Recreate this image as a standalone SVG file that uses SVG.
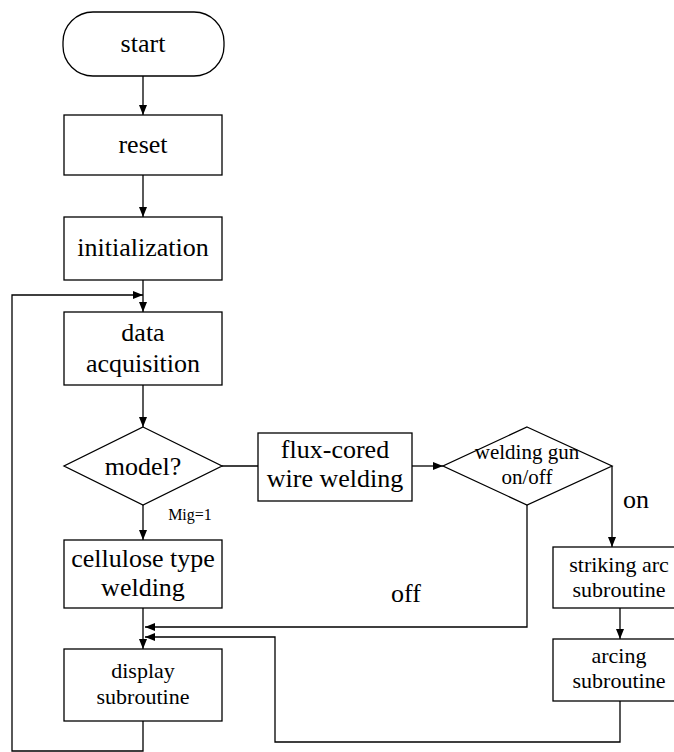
<svg xmlns="http://www.w3.org/2000/svg" width="674" height="752" viewBox="0 0 674 752">
<defs>
<marker id="ah" markerWidth="10" markerHeight="8" refX="10" refY="4" orient="auto" markerUnits="userSpaceOnUse">
<path d="M0,0 L10,4 L0,8 Z" fill="#000"/>
</marker>
<style>
.box{fill:#fff;stroke:#000;stroke-width:1.3}
.ln{fill:none;stroke:#000;stroke-width:1.3}
.t{font-family:"Liberation Serif","Times New Roman",serif;font-size:26px;fill:#000;text-anchor:middle}
.s{font-family:"Liberation Serif","Times New Roman",serif;font-size:22px;fill:#000;text-anchor:middle}
</style>
</defs>
<rect width="674" height="752" fill="#fff"/>
<g id="connectors">
<path class="ln" d="M143,76 V115" marker-end="url(#ah)"/>
<path class="ln" d="M143,175 V217" marker-end="url(#ah)"/>
<path class="ln" d="M143,280 V312" marker-end="url(#ah)"/>
<path class="ln" d="M143,721 V751 H12 V295 H143" marker-end="url(#ah)"/>
<path class="ln" d="M143,385 V427" marker-end="url(#ah)"/>
<path class="ln" d="M143,505 V540" marker-end="url(#ah)"/>
<path class="ln" d="M222,466 H258"/>
<path class="ln" d="M412,466 H443" marker-end="url(#ah)"/>
<path class="ln" d="M612,466 V547" marker-end="url(#ah)"/>
<path class="ln" d="M620,608 V639" marker-end="url(#ah)"/>
<path class="ln" d="M527,505 V627 H145" marker-end="url(#ah)"/>
<path class="ln" d="M620,701 V742 H275 V637 H145" marker-end="url(#ah)"/>
<path class="ln" d="M143,608 V649" marker-end="url(#ah)"/>
<text x="190" y="520" font-family="Liberation Serif, serif" font-size="16" text-anchor="middle">Mig=1</text>
<text class="t" x="636" y="508">on</text>
<text class="t" x="406" y="602">off</text>
</g>
<g id="start">
<rect class="box" x="63" y="12" width="161" height="64" rx="30" ry="30"/>
<text class="t" x="143" y="52">start</text>
</g>
<g id="reset">
<rect class="box" x="64" y="115" width="158" height="60"/>
<text class="t" x="143" y="153">reset</text>
</g>
<g id="initialization">
<rect class="box" x="64" y="217" width="158" height="63"/>
<text class="t" x="143" y="256">initialization</text>
</g>
<g id="data">
<rect class="box" x="64" y="312" width="158" height="73"/>
<text class="t" x="143" y="341">data</text>
<text class="t" x="143" y="372">acquisition</text>
</g>
<g id="model">
<polygon class="box" points="143,427 222,466 143,505 64,466"/>
<text class="t" x="143" y="475">model?</text>
</g>
<g id="flux">
<rect class="box" x="258" y="433" width="154" height="68"/>
<text class="t" x="335" y="458">flux-cored</text>
<text class="t" x="335" y="487">wire welding</text>
</g>
<g id="gun">
<polygon class="box" points="527,427 612,466 527,505 443,466"/>
<text class="s" x="527" y="459" style="font-size:21px">welding gun</text>
<text class="s" x="527" y="484" style="font-size:21px">on/off</text>
</g>
<g id="cellulose">
<rect class="box" x="64" y="540" width="158" height="68"/>
<text class="t" x="143" y="567">cellulose type</text>
<text class="t" x="143" y="596">welding</text>
</g>
<g id="display">
<rect class="box" x="64" y="649" width="158" height="72"/>
<text class="s" x="143" y="678">display</text>
<text class="s" x="143" y="704">subroutine</text>
</g>
<g id="striking">
<rect class="box" x="553" y="547" width="130" height="61"/>
<text class="s" x="619" y="572">striking arc</text>
<text class="s" x="619" y="597">subroutine</text>
</g>
<g id="arcing">
<rect class="box" x="553" y="639" width="130" height="62"/>
<text class="s" x="619" y="663">arcing</text>
<text class="s" x="619" y="688">subroutine</text>
</g>
</svg>
